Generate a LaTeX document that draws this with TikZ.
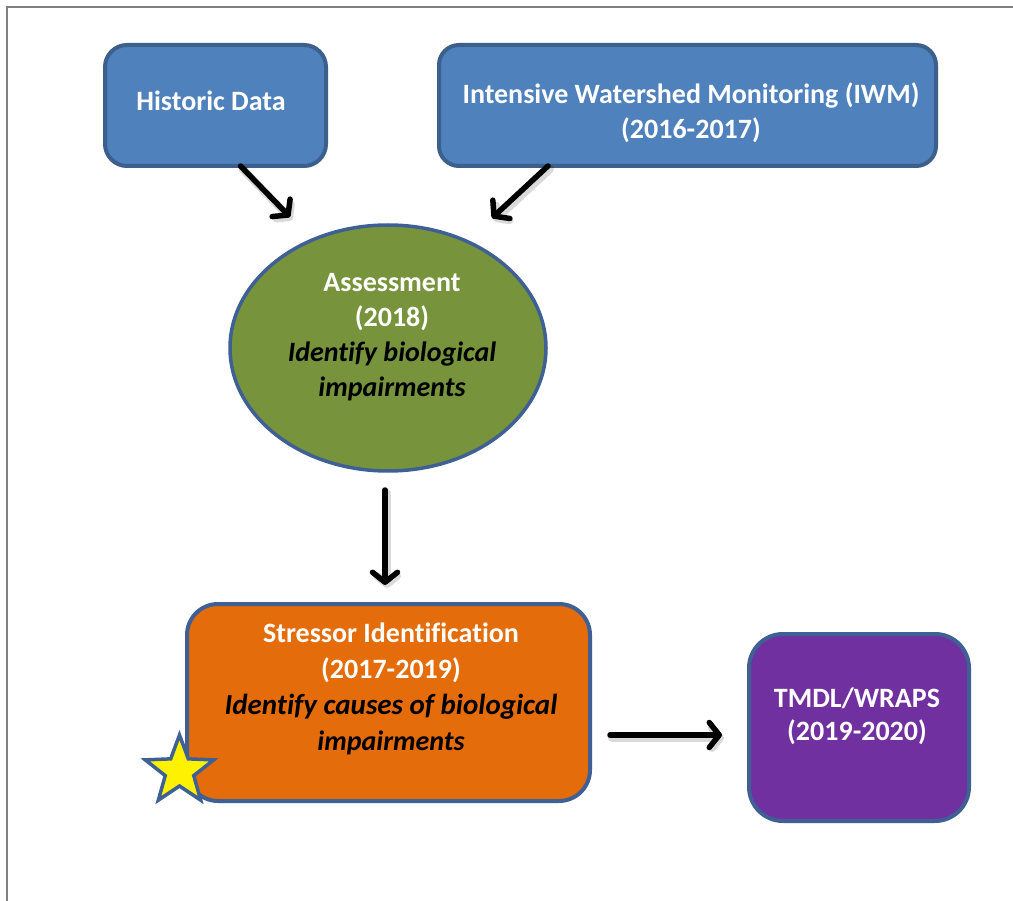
\documentclass[tikz,border=0pt]{standalone}
\usepackage{fontspec}
\setmainfont{Carlito}[Ligatures=NoCommon]
\usetikzlibrary{arrows.meta,calc,shapes.geometric}
\definecolor{boxblue}{HTML}{4F81BD}
\definecolor{edgeblue}{HTML}{3C5F8C}
\definecolor{ringblue}{HTML}{3F6095}
\definecolor{olive}{HTML}{77933C}
\definecolor{orng}{HTML}{E46C0A}
\definecolor{purp}{HTML}{7030A0}
\definecolor{framegrey}{HTML}{808080}
\tikzset{
  shapebox/.style={rectangle, inner sep=0pt, outer sep=0pt, line width=4pt},
  bluebox/.style={shapebox, fill=boxblue, draw=edgeblue},
  txt/.style={font=\fontsize{28}{35}\selectfont\bfseries, align=center, inner sep=0pt},
  arr/.style={line width=5.5pt, line cap=round, -{Straight Barb[length=10pt,width=25pt,round]}},
  arrshadow/.style={line width=8pt, line cap=round, draw=black, opacity=0.15, -{Straight Barb[length=8pt,width=20pt,round]}}
}
\begin{document}
\begin{tikzpicture}[x=1pt,y=-1pt]
\useasboundingbox (0,0) rectangle (1013,901);
\fill[white] (0,0) rectangle (1013,901);
\draw[framegrey, line width=2pt] (7,905) -- (7,7) -- (1017,7);

% shapes
\node[bluebox, rounded corners=22pt, minimum width=221pt, minimum height=121pt] (hist) at (215.5,105.5) {};
\node[bluebox, rounded corners=20pt, minimum width=497pt, minimum height=121pt] (iwm) at (687.5,105.5) {};
\node[ellipse, inner sep=0pt, outer sep=0pt, line width=3.5pt, fill=olive, draw=ringblue, minimum width=316pt, minimum height=246pt] (assess) at (388,348) {};
\node[shapebox, rounded corners=31pt, fill=orng, draw=ringblue, minimum width=403pt, minimum height=197pt] (stress) at (388.5,702.5) {};
\node[shapebox, rounded corners=34pt, fill=purp, draw=ringblue, minimum width=220pt, minimum height=187pt] (tmdl) at (859,727.5) {};

% star
\filldraw[fill=yellow, draw=ringblue, line width=3.5pt, line join=miter]
  ($(179.5,771)+(-90:36)$)
  \foreach \k in {0,...,4} { -- ($(179.5,771)+(-54+72*\k:15)$) -- ($(179.5,771)+(-18+72*\k:36)$) } -- cycle;

% texts
\node[txt, text=white] (histT) at (211,101) {Historic Data};
\node[txt, text=white] (iwmT) at (691,112.5) {Intensive Watershed Monitoring (IWM)\\(2016-2017)};
\node[txt] (assessT) at (392,337) {\textcolor{white}{Assessment}\\\textcolor{white}{(2018)}\\\itshape Identify biological\\\itshape impairments};
\node[txt, font=\fontsize{28}{36}\selectfont\bfseries] (stressT) at (391,689) {\textcolor{white}{Stressor Identification}\\\textcolor{white}{(2017-2019)}\\\itshape\fontsize{29}{36}\selectfont Identify causes of biological\\\itshape impairments};
\node[txt, text=white, font=\fontsize{28}{33}\selectfont\bfseries] (tmdlT) at (857,716.5) {TMDL/WRAPS\\(2019-2020)};

% connectors
\coordinate (a1) at (290,217);
\coordinate (a2) at (492,218);
\draw[arrshadow, transform canvas={shift={(2pt,-3pt)}}] ([xshift=25pt]hist.south) -- (a1);
\draw[arrshadow, transform canvas={shift={(2pt,-3pt)}}] ([xshift=-139.5pt]iwm.south) -- (a2);
\draw[arrshadow, transform canvas={shift={(2pt,-3pt)}}] ($(assess.south)+(-3,19)$) -- ($(stress.north)+(-3.5,-19)$);
\draw[arrshadow, transform canvas={shift={(2pt,-3pt)}}] ($(stress.east)+(20,32.5)$) -- ($(tmdl.west)+(-27,7.5)$);
\draw[arr] ([xshift=25pt]hist.south) -- (a1);
\draw[arr] ([xshift=-139.5pt]iwm.south) -- (a2);
\draw[arr] ($(assess.south)+(-3,19)$) -- ($(stress.north)+(-3.5,-19)$);
\draw[arr] ($(stress.east)+(20,32.5)$) -- ($(tmdl.west)+(-27,7.5)$);
\end{tikzpicture}
\end{document}
